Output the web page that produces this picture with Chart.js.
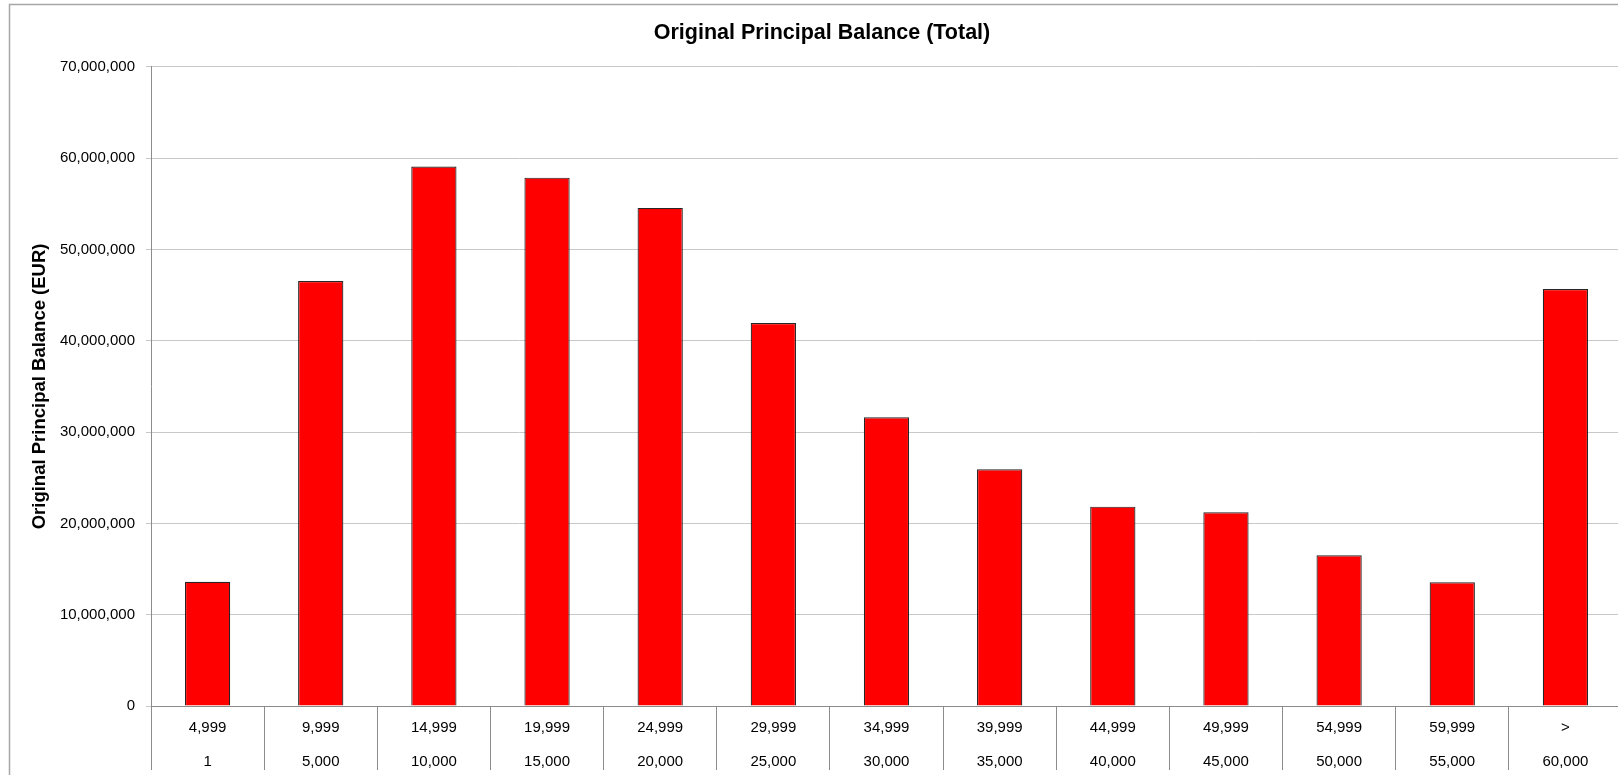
<!DOCTYPE html>
<html>
<head>
<meta charset="utf-8">
<script src="https://cdn.jsdelivr.net/npm/chart.js@4/dist/chart.umd.min.js"></script>
<style>
  html, body { margin: 0; padding: 0; background: #fff; overflow: hidden; }
  #wrap { width: 1622px; height: 775px; }
</style>
</head>
<body>
<div id="wrap"><canvas id="balanceChart" width="1622" height="775"></canvas></div>
<script>
// DATA
const bandUpper = ["4,999", "9,999", "14,999", "19,999", "24,999", "29,999", "34,999",
  "39,999", "44,999", "49,999", "54,999", "59,999", ">"];
const bandLower = ["1", "5,000", "10,000", "15,000", "20,000", "25,000", "30,000",
  "35,000", "40,000", "45,000", "50,000", "55,000", "60,000"];
const balanceEUR = [13600000, 46550000, 59070000, 57860000, 54550000, 41950000, 31620000,
  25930000, 21830000, 21210000, 16500000, 13550000, 45670000];
const yTicksMax = 70000000;
const yTickStep = 10000000;

const labels = bandUpper.map(function (u, i) { return [u, bandLower[i]]; });

// frame + white background
const framePlugin = {
  id: "frame",
  beforeDraw: function (chart) {
    const c = chart.ctx;
    c.save();
    c.fillStyle = "#fff";
    c.fillRect(0, 0, chart.width, chart.height);
    c.strokeStyle = "#a6a6a6";
    c.lineWidth = 1.5;
    c.strokeRect(9.5, 4.5, chart.width + 20, chart.height + 20);
    c.restore();
  }
};

const ctx = document.getElementById("balanceChart").getContext("2d");

new Chart(ctx, {
  type: "bar",
  data: {
    labels: labels,
    datasets: [{
      label: "Original Principal Balance",
      data: balanceEUR,
      backgroundColor: "#ff0000",
      borderColor: "#262626",
      borderWidth: 1.2,
      barPercentage: 0.4,
      categoryPercentage: 1
    }]
  },
  options: {
    responsive: false,
    animation: false,
    devicePixelRatio: 1,
    layout: { padding: { left: 22, top: 0, right: 0, bottom: 0 } },
    plugins: {
      legend: { display: false },
      tooltip: { enabled: false },
      title: {
        display: true,
        text: "Original Principal Balance (Total)",
        color: "#000",
        font: { family: "Liberation Sans", size: 21.5, weight: "bold" },
        padding: { top: 20, bottom: 21 }
      }
    },
    scales: {
      x: {
        grid: {
          offset: true,
          drawOnChartArea: false,
          drawTicks: true,
          tickLength: 64,
          color: "#8c8c8c"
        },
        border: { color: "#8c8c8c" },
        ticks: {
          color: "#000",
          maxRotation: 0,
          autoSkip: false,
          padding: -59,
          font: { family: "Liberation Sans", size: 15, lineHeight: 2.27 }
        },
        afterFit: function (scale) { scale.height = 69; }
      },
      y: {
        min: 0,
        max: yTicksMax,
        grid: { color: "#c8c8c8", tickLength: 5 },
        border: { color: "#8c8c8c" },
        ticks: {
          stepSize: yTickStep,
          color: "#000",
          padding: 11,
          font: { family: "Liberation Sans", size: 15 },
          callback: function (v) { return v.toLocaleString("en-US"); }
        },
        title: {
          display: true,
          text: "Original Principal Balance (EUR)",
          color: "#000",
          font: { family: "Liberation Sans", size: 18.5, weight: "bold" },
          padding: { top: 7, bottom: 0 }
        },
        afterFit: function (scale) { scale.width = 129; }
      }
    }
  },
  plugins: [framePlugin]
});
</script>
</body>
</html>
